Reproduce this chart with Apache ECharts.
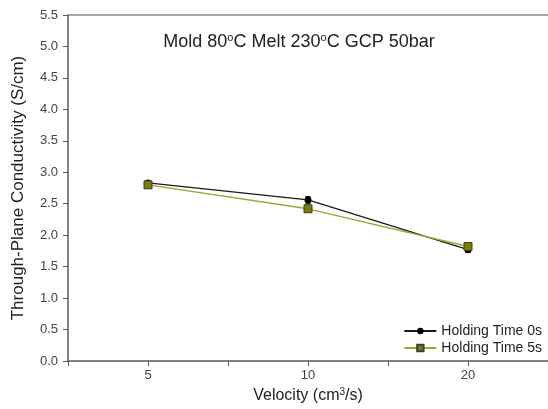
<!DOCTYPE html>
<html>
<head>
<meta charset="utf-8">
<script src="https://cdn.jsdelivr.net/npm/echarts@6/dist/echarts.min.js"></script>
<style>
  html, body { margin: 0; padding: 0; background: #fff; }
  #chart { width: 548px; height: 409px; }
</style>
</head>
<body>
<div id="chart"></div>
<script>
// 横轴类别（速度）
const velocities = ['5', '10', '20']
// 保压时间 0s / 5s 的电导率
const holding0 = [2.83, 2.56, 1.77]
const holding5 = [2.80, 2.42, 1.82]
// 0s 数据的误差
const holding0Err = [0.03, 0.05, 0.04]
const seriesNames = ['Holding Time 0s', 'Holding Time 5s']

const chart = echarts.init(document.getElementById('chart'))

// 类别画在 1,2,3 的位置上
const pts0 = holding0.map((v, i) => [i + 1, v])
const pts5 = holding5.map((v, i) => [i + 1, v])
const errData = holding0.map((v, i) => [i + 1, v - holding0Err[i], v + holding0Err[i]])

const axisColor = '#5a5a5a'
const textColor = '#444'

const option = {
  animation: false,
  title: {
    text: 'Mold 80{s|o}C Melt 230{s|o}C GCP 50bar',
    left: 294,
    textAlign: 'center',
    top: 27,
    textStyle: {
      fontFamily: 'Liberation Sans',
      fontSize: 18,
      fontWeight: 'normal',
      color: '#222',
      rich: {
        s: { fontSize: 11, verticalAlign: 'top', padding: [0, 0, 9, 0], color: '#222', fontFamily: 'Liberation Sans' }
      }
    }
  },
  legend: {
    orient: 'vertical',
    right: 1,
    top: 319,
    itemWidth: 32,
    itemHeight: 8,
    itemGap: 3,
    textStyle: { fontFamily: 'Liberation Sans', fontSize: 14, color: '#222' },
    data: seriesNames
  },
  grid: { left: 68, right: -3, top: 15, bottom: 44 },
  xAxis: [
    {
      type: 'value',
      min: 0.5,
      max: 3.5,
      interval: 0.5,
      name: 'Velocity (cm{s|3}/s)',
      nameLocation: 'middle',
      nameGap: 26,
      nameTextStyle: {
        fontFamily: 'Liberation Sans',
        fontSize: 16,
        color: '#222',
        rich: { s: { fontSize: 10, verticalAlign: 'top', padding: [0, 0, 8, 0], color: '#222' } }
      },
      splitLine: { show: false },
      axisLine: { lineStyle: { color: axisColor, width: 1.5 } },
      axisTick: {
        length: 5,
        lineStyle: { color: axisColor },
        customValues: [0.5, 1, 1.5, 2, 2.5, 3]
      },
      axisLabel: {
        customValues: [1, 2, 3],
        formatter: (v) => velocities[Math.round(v) - 1] || '',
        fontFamily: 'Liberation Sans',
        fontSize: 13,
        color: textColor,
        margin: 8
      }
    },
    {
      type: 'value',
      position: 'top',
      min: 0.5,
      max: 3.5,
      axisLine: { show: true, onZero: false, lineStyle: { color: '#8a8a8a', width: 1.5 } },
      axisTick: { show: false },
      axisLabel: { show: false },
      splitLine: { show: false }
    }
  ],
  yAxis: {
    type: 'value',
    min: 0,
    max: 5.5,
    interval: 0.5,
    name: 'Through-Plane Conductivity (S/cm)',
    nameLocation: 'middle',
    nameGap: 41,
    nameTextStyle: { fontFamily: 'Liberation Sans', fontSize: 17, color: '#222' },
    splitLine: { show: false },
    axisLine: { show: true, lineStyle: { color: axisColor, width: 1.5 } },
    axisTick: { show: true, length: 5, lineStyle: { color: axisColor } },
    axisLabel: {
      formatter: (v) => v.toFixed(1),
      fontFamily: 'Liberation Sans',
      fontSize: 13,
      color: textColor,
      margin: 10
    }
  },
  series: [
    {
      name: seriesNames[0],
      type: 'line',
      data: pts0,
      symbol: 'circle',
      symbolSize: 7,
      lineStyle: { color: '#1a1a1a', width: 1.3 },
      itemStyle: { color: '#000' },
      z: 3
    },
    {
      type: 'custom',
      data: errData,
      silent: true,
      z: 4,
      renderItem: (params, api) => {
        const x = api.value(0)
        const lo = api.coord([x, api.value(1)])
        const hi = api.coord([x, api.value(2)])
        const style = { stroke: '#000', lineWidth: 1.5 }
        return {
          type: 'group',
          children: [
            { type: 'line', shape: { x1: lo[0], y1: lo[1], x2: hi[0], y2: hi[1] }, style },
            { type: 'line', shape: { x1: lo[0] - 2.5, y1: lo[1], x2: lo[0] + 2.5, y2: lo[1] }, style },
            { type: 'line', shape: { x1: hi[0] - 2.5, y1: hi[1], x2: hi[0] + 2.5, y2: hi[1] }, style }
          ]
        }
      }
    },
    {
      name: seriesNames[1],
      type: 'line',
      data: pts5,
      symbol: 'rect',
      symbolSize: 8,
      lineStyle: { color: '#a3a335', width: 1.3 },
      itemStyle: { color: '#7d7d00', borderColor: '#3d3d3d', borderWidth: 1 },
      z: 5
    }
  ]
}

chart.setOption(option)
</script>
</body>
</html>
